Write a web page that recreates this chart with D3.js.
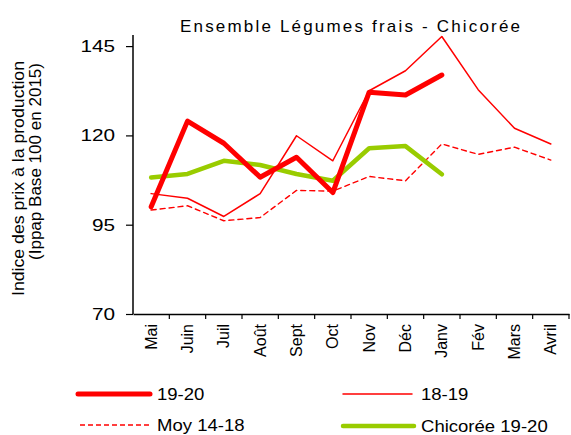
<!DOCTYPE html>
<html><head><meta charset="utf-8">
<script src="https://cdn.jsdelivr.net/npm/d3@7/dist/d3.min.js"></script>
<style>body{margin:0;background:#fff}svg{display:block;font-family:"Liberation Sans",Arial,sans-serif}</style>
</head><body><svg id="c" width="571" height="435"></svg>
<script>
const months = ["Mai","Juin","Juil","Août","Sept","Oct","Nov","Déc","Janv","Fév","Mars","Avril"];
const s1920 = [100.0,124.0,117.8,108.3,113.9,104.0,132.1,131.3,136.9];
const s1819 = [103.7,102.4,97.3,103.7,119.9,112.9,132.5,138.1,147.7,132.8,122.0,117.6];
const moy1418 = [99.1,100.3,96.1,97.0,104.6,104.4,108.5,107.3,117.6,114.7,116.7,113.1];
const chic1920 = [108.2,109.2,112.9,111.7,109.2,107.3,116.4,117.0,109.1];
const yTicks = [70,95,120,145];

const svg = d3.select("#c");
const L=133, R=569, T=35, B=314;
const x = d3.scaleBand().domain(months).range([L,R]);
const y = d3.scaleLinear().domain([70,150]).range([B,B-80*3.572]);

function stretch(sel, f, mode){
  sel.each(function(){
    const n = this.getComputedTextLength();
    d3.select(this).attr("textLength", n*f).attr("lengthAdjust", mode||"spacingAndGlyphs");
  });
}

// axes
const ya = svg.append("g").attr("transform",`translate(${L},0)`)
  .call(d3.axisLeft(y).tickValues(yTicks).tickSize(7).tickPadding(11).tickSizeOuter(0));
ya.select(".domain").attr("d",`M0,${T}V${B}`).attr("stroke","#000").attr("stroke-width",1.5);
ya.selectAll("text").attr("font-size",17).attr("fill","#000").attr("font-family","Liberation Sans, Arial");
ya.selectAll("line").attr("stroke","#000").attr("stroke-width",1.2);
stretch(ya.selectAll("text"),1.22);

const xa = svg.append("g").attr("transform",`translate(0,${B})`)
  .call(d3.axisBottom(x).tickSize(0).tickSizeOuter(0));
xa.select(".domain").attr("stroke","#000").attr("stroke-width",1.5);
xa.selectAll("text").attr("font-size",16).attr("fill","#000").attr("font-family","Liberation Sans, Arial")
  .attr("text-anchor","end").attr("transform","rotate(-90)").attr("x",-10).attr("y",0).attr("dy","0.35em")
  .attr("dx",0);
// band boundary ticks
svg.append("g").selectAll("line").data(months).join("line")
  .attr("x1",(d,i)=>L+x.step()*(i+1)).attr("x2",(d,i)=>L+x.step()*(i+1))
  .attr("y1",B).attr("y2",B+5).attr("stroke","#000").attr("stroke-width",1.2);

const line = d3.line().x((d,i)=>x(months[i])+x.bandwidth()/2).y(d=>y(d));
function draw(data,color,w,dash){
  svg.append("path").attr("d",line(data)).attr("fill","none").attr("stroke",color)
    .attr("stroke-width",w).attr("stroke-dasharray",dash||null).attr("stroke-linejoin","round").attr("stroke-linecap","round");
}
draw(moy1418,"#ff0000",1.4,"5,4");
draw(s1819,"#ff0000",1.5);
draw(chic1920,"#99cc00",4.5);
draw(s1920,"#ff0000",5);

// title
const title = svg.append("text").attr("x",350).attr("y",31.5).attr("text-anchor","middle").attr("font-size",17)
  .text("Ensemble Légumes frais - Chicorée");
title.attr("textLength",340).attr("lengthAdjust","spacing");

// y label (rotated, end-anchored at top)
const yl1 = svg.append("text").attr("transform","translate(24,61) rotate(-90)").attr("text-anchor","end").attr("font-size",16)
  .text("Indice des prix à la production").attr("textLength",235).attr("lengthAdjust","spacingAndGlyphs");
const yl2 = svg.append("text").attr("transform","translate(41,63) rotate(-90)").attr("text-anchor","end").attr("font-size",16)
  .text("(Ippap Base 100 en 2015)").attr("textLength",197).attr("lengthAdjust","spacingAndGlyphs");

// legend
const leg = [
  {t:"19-20",c:"#ff0000",w:5,d:null,x1:78,x2:150,tx:157,y:394},
  {t:"18-19",c:"#ff0000",w:1.5,d:null,x1:343,x2:412,tx:421,y:394},
  {t:"Moy 14-18",c:"#ff0000",w:1.4,d:"5,3",x1:80,x2:149,tx:157,y:425},
  {t:"Chicorée 19-20",c:"#99cc00",w:4.5,d:null,x1:343,x2:414,tx:421,y:426}
];
const lg = svg.append("g").selectAll("g").data(leg).join("g");
lg.append("line").attr("x1",d=>d.x1).attr("x2",d=>d.x2).attr("y1",d=>d.y).attr("y2",d=>d.y)
  .attr("stroke",d=>d.c).attr("stroke-width",d=>d.w).attr("stroke-dasharray",d=>d.d).attr("stroke-linecap",d=>d.d?"butt":"round");
const lt = lg.append("text").attr("x",d=>d.tx).attr("y",d=>d.y).attr("dy","0.36em").attr("font-size",17).text(d=>d.t);
stretch(lt,1.09);
</script></body></html>
